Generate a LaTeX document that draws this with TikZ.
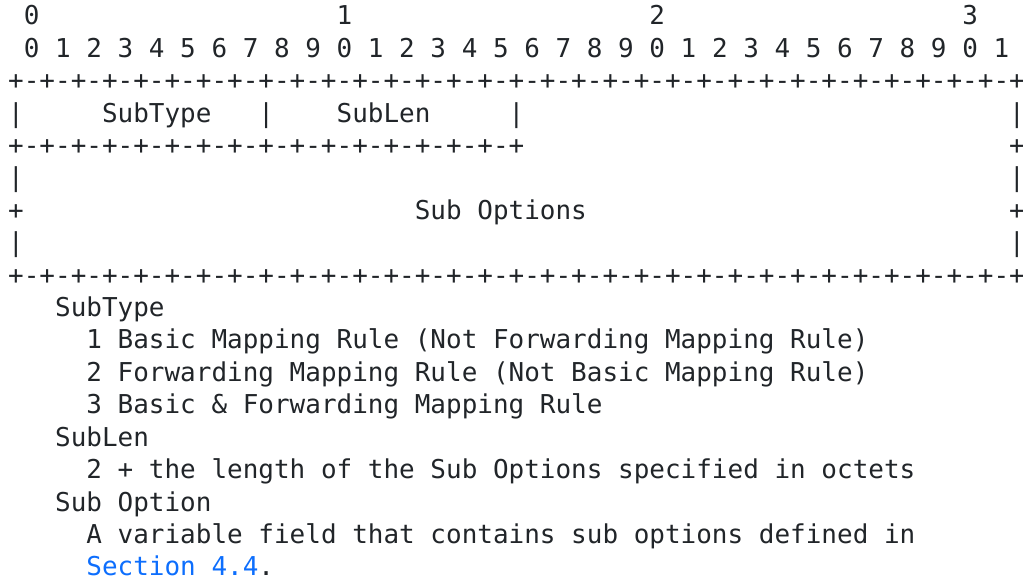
\documentclass[tikz,border=0pt]{standalone}
\usepackage{fontspec}
\setmonofont{DejaVu Sans Mono}
\usepackage{xcolor}
\usepackage{tikz}
\definecolor{ink}{HTML}{212529}
\definecolor{linkblue}{HTML}{0D6EFD}

\begin{document}
\begin{tikzpicture}[x=7.82pt,y=-16.2pt,
	every node/.style={anchor=base west,inner sep=0pt,outer sep=0pt,text=ink,
		font=\ttfamily\fontsize{12.99pt}{15pt}\selectfont}]
	\useasboundingbox (0pt,0pt) rectangle (511.5pt,-291pt);
	\begin{scope}[shift={(4.1pt,3.7pt)}]
		% bit ruler
		\foreach \d in {0,1,2,3}
			\node (tens\d) at (\d*20+1,1) {\d};
		\node (units) at (1,2) {0 1 2 3 4 5 6 7 8 9 0 1 2 3 4 5 6 7 8 9 0 1 2 3 4 5 6 7 8 9 0 1};
		
		% packet frame
		\node (top) at (0,3) {+-+-+-+-+-+-+-+-+-+-+-+-+-+-+-+-+-+-+-+-+-+-+-+-+-+-+-+-+-+-+-+-+};
		\node (b4a) at (0,4) {|};
		\node (subtype) at (6,4) {SubType};
		\node (b4b) at (16,4) {|};
		\node (sublen) at (21,4) {SubLen};
		\node (b4c) at (32,4) {|};
		\node (b4d) at (64,4) {|};
		\node (mid) at (0,5) {+-+-+-+-+-+-+-+-+-+-+-+-+-+-+-+-+};
		\node (p5) at (64,5) {+};
		\node (b6a) at (0,6) {|};
		\node (b6b) at (64,6) {|};
		\node (p7a) at (0,7) {+};
		\node (subopts) at (26,7) {Sub Options};
		\node (p7b) at (64,7) {+};
		\node (b8a) at (0,8) {|};
		\node (b8b) at (64,8) {|};
		\node (bottom) at (0,9) {+-+-+-+-+-+-+-+-+-+-+-+-+-+-+-+-+-+-+-+-+-+-+-+-+-+-+-+-+-+-+-+-+};
		
		% field description
		\node (dtype) at (3,10) {SubType};
		\node (type1) at (5,11) {1 Basic Mapping Rule (Not Forwarding Mapping Rule)};
		\node (type2) at (5,12) {2 Forwarding Mapping Rule (Not Basic Mapping Rule)};
		\node (type3) at (5,13) {3 Basic \& Forwarding Mapping Rule};
		\node (dlen) at (3,14) {SubLen};
		\node (len) at (5,15) {2 + the length of the Sub Options specified in octets};
		\node (dopt) at (3,16) {Sub Option};
		\node (opt) at (5,17) {A variable field that contains sub options defined in};
		\node[text=linkblue] (secref) at (5,18) {Section 4.4};
		\node (stop) at (secref.base east) {.};
	\end{scope}
\end{tikzpicture}
\end{document}
